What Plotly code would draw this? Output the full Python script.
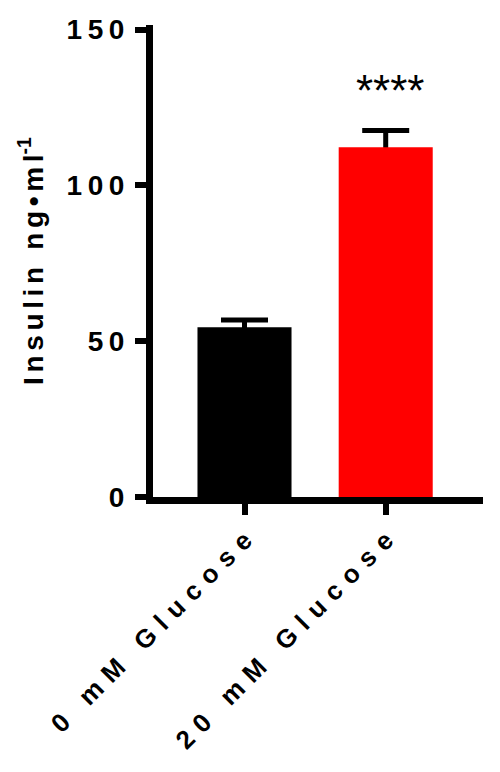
import plotly.graph_objects as go

categories = ["0 mM Glucose", "20 mM Glucose"]
insulin = [54.5, 112.3]
sem = [2.3, 5.3]
bar_colors = ["#000000", "#ff0000"]
y_ticks = [0, 50, 100, 150]
y_tick_labels = ["0", "50", "100", "150"]
stars = "****"

FONT = "Liberation Sans, Arial, sans-serif"
NB = "\u00a0"
THIN = "\u2009"
SIX = "\u2006"


def spaced(text, gap, word_gap):
    words = text.split(" ")
    return word_gap.join(gap.join(w) for w in words)


x_tick_text = ["<b>%s</b>" % spaced(c, SIX * 2, SIX * 2 + NB + SIX * 2) for c in categories]
y_tick_text = ["<b>%s</b>" % THIN.join(t) for t in y_tick_labels]
y_title = spaced("Insulin", SIX, SIX + NB + SIX) + SIX + NB + SIX + spaced("ng•ml", SIX, SIX) + "<sup>-1</sup>"

# page body has an 8px margin, so the figure is drawn 8px smaller
fig = go.Figure()
# error bars first, the real bars cover their lower half
fig.add_trace(go.Bar(
    x=categories, y=insulin, width=0.666,
    marker=dict(color="rgba(0,0,0,0)", line=dict(width=0)),
    error_y=dict(type="data", array=sem, color="#000000", thickness=5, width=23.5),
    hoverinfo="skip", showlegend=False,
))
fig.add_trace(go.Bar(
    x=categories, y=insulin, width=0.666,
    marker=dict(color=bar_colors, line=dict(width=0)),
    showlegend=False,
))
fig.add_annotation(
    x=categories[1], y=insulin[1] + sem[1], text=stars, showarrow=False,
    yanchor="bottom", yshift=14, xshift=5, font=dict(family=FONT, size=44, color="#000000"),
)
fig.update_layout(
    width=492, height=764,
    margin=dict(l=145, r=17, t=17, b=275),
    paper_bgcolor="white", plot_bgcolor="white",
    barmode="overlay",
    font=dict(family=FONT, color="#000000"),
    xaxis=dict(
        type="category", range=[-0.648, 1.689],
        tickvals=categories, ticktext=x_tick_text,
        tickangle=-45, tickfont=dict(size=26, family=FONT, color="#000000"),
        showline=True, linewidth=7, linecolor="#000000",
        ticks="outside", ticklen=11, tickwidth=6, tickcolor="#000000",
        showgrid=False, zeroline=False, fixedrange=True, automargin=False,
    ),
    yaxis=dict(
        range=[0, 151.5], tickvals=y_ticks, ticktext=y_tick_text,
        tickfont=dict(size=28, family=FONT, color="#000000"),
        ticklabelstandoff=5,
        showline=True, linewidth=7, linecolor="#000000",
        ticks="outside", ticklen=11, tickwidth=6, tickcolor="#000000",
        showgrid=False, zeroline=False, fixedrange=True, automargin=False,
        title=dict(text="<b>%s</b>" % y_title, font=dict(size=28, family=FONT, color="#000000"), standoff=17),
    ),
)
fig.write_html("out.html")
